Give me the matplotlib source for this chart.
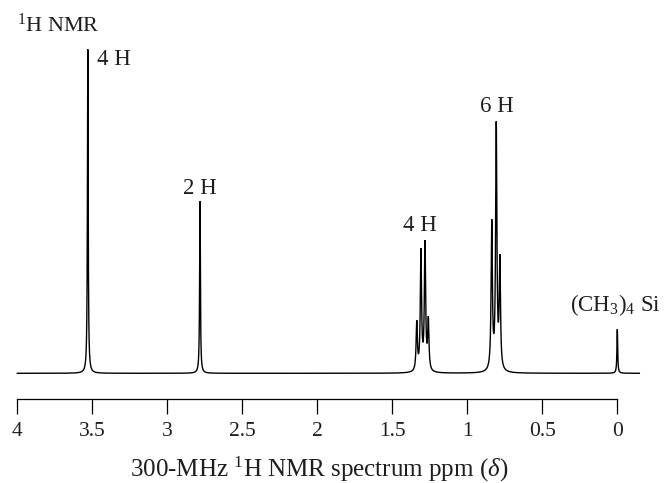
import numpy as np
import matplotlib
matplotlib.use("Agg")
import matplotlib.pyplot as plt

plt.rcParams['font.family'] = ['Liberation Serif', 'DejaVu Serif']
plt.rcParams['mathtext.fontset'] = 'custom'
plt.rcParams['mathtext.rm'] = 'Liberation Serif'
plt.rcParams['mathtext.it'] = 'Liberation Serif:italic'
plt.rcParams['mathtext.bf'] = 'Liberation Serif:bold'

# ---- data ----
peak_ppm = [3.530, 2.782, 1.337, 1.309, 1.282, 1.260, 0.837, 0.807, 0.783, 0.000]
peak_height = [324, 172, 53, 125, 133, 57, 154, 252, 119, 44]
peak_width = [0.003, 0.003, 0.005, 0.005, 0.005, 0.005, 0.005, 0.005, 0.005, 0.003]

group_labels = ["4 H", "2 H", "4 H", "6 H", "(CH$_3$)$_4$ Si"]
group_label_ppm = [3.471, 2.782, 1.315, 0.804, 0.012]
group_label_h = [308, 179, 142, 261, 62]
group_label_ha = ["left", "center", "center", "center", "center"]

tick_values = [4, 3.5, 3, 2.5, 2, 1.5, 1, 0.5, 0]
tick_labels = ["4", "3.5", "3", "2.5", "2", "1.5", "1", "0.5", "0"]
spectrum_range = (4.0, -0.147)

# ---- build spectrum (sum of Lorentzians whose summed peak heights match) ----
pp = np.array(peak_ppm)
hh = np.array(peak_height, dtype=float)
ww = np.array(peak_width)

def lor(x, x0, g):
    return g**2 / ((x - x0)**2 + g**2)

M = np.array([[lor(pp[i], pp[j], ww[j]) for j in range(len(pp))] for i in range(len(pp))])
amp = np.linalg.solve(M, hh)

x = np.linspace(spectrum_range[0], spectrum_range[1], 40000)
y = np.zeros_like(x)
for a, x0, g in zip(amp, pp, ww):
    y += a * lor(x, x0, g)

# ---- figure ----
W, H = 668, 483
fig = plt.figure(figsize=(W/100, H/100), dpi=100)
base_px = 373.3   # baseline pixel row
axis_px = 398.7   # axis line pixel row
ax = fig.add_axes([0, (H - axis_px)/H, 1, axis_px/H])
ax.set_xlim(4 + 17.3/150, 0 - (W - 617.3)/150)
ax.set_ylim(base_px - axis_px, base_px)

ax.plot(x, y, color='black', lw=1.0, solid_joinstyle='miter')

txt_color = '#1e1e1e'
for lab, px, ph, ha in zip(group_labels, group_label_ppm, group_label_h, group_label_ha):
    ax.text(px, ph, lab, ha=ha, va='baseline', fontsize=16.5, color=txt_color)

ax.text(4.0, 341.5, "$^1$H NMR", ha='left', va='baseline', fontsize=16, color=txt_color)

for s in ['top', 'left', 'right']:
    ax.spines[s].set_visible(False)
ax.spines['bottom'].set_bounds(0, 4)
ax.spines['bottom'].set_linewidth(0.9)
ax.set_yticks([])
ax.set_xticks(tick_values)
ax.set_xticklabels(tick_labels)
ax.tick_params(axis='x', direction='out', length=11, width=0.9, pad=6,
               labelsize=15.5, labelcolor=txt_color)
ax.set_xlabel("300-MHz $^1$H NMR spectrum ppm ($\\delta$)", fontsize=18,
              color=txt_color)
ax.xaxis.label.set_verticalalignment('baseline')
ax.xaxis.set_label_coords(319.0 / W, -(477 - axis_px) / axis_px)

fig.savefig("out.png", dpi=100)
